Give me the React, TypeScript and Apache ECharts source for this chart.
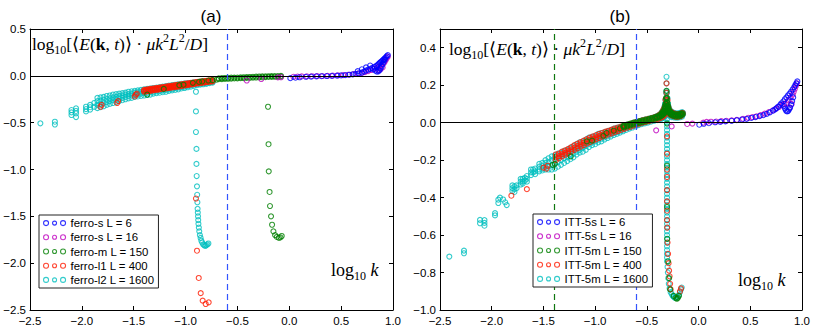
import React, { useEffect, useRef } from 'react';
import * as echarts from 'echarts';

// ---------- axes ----------
const xMin = -2.5, xMax = 1.0, xStep = 0.5;
const aYMin = -2.5, aYMax = 0.5, aYStep = 0.5;
const bYMin = -1.0, bYMax = 0.5, bYStep = 0.2;

// ---------- legend / colours ----------
const legendA = ['ferro-s L = 6', 'ferro-s L = 16', 'ferro-m L = 150', 'ferro-l1 L = 400', 'ferro-l2 L = 1600'];
const legendB = ['ITT-5s L = 6', 'ITT-5s L = 16', 'ITT-5m L = 150', 'ITT-5m L = 400', 'ITT-5m L = 1600'];
const colors = ['#0000ff', '#bf00bf', '#008000', '#ff1a00', '#00bfbf'];

// reference lines
const zeroY = 0;
const aBlueDash = -0.6;
const bBlueDash = -0.6;
const bGreenDash = -1.4;

// ================= PANEL (a) =================
const aBlue = [
  [0.01, -0.025], [0.06, -0.02], [0.1, -0.015], [0.16, -0.01], [0.21, -0.008], [0.26, -0.005], [0.31, -0.004],
  [0.36, -0.002], [0.41, 0.0], [0.46, 0.002], [0.5, 0.005], [0.54, 0.008], [0.58, 0.012], [0.61, 0.016],
  [0.64, 0.02], [0.67, 0.026], [0.7, 0.035], [0.72, 0.045], [0.74, 0.055], [0.76, 0.065], [0.78, 0.075],
  [0.8, 0.085], [0.82, 0.095], [0.84, 0.105], [0.85, 0.115], [0.86, 0.125], [0.87, 0.135], [0.88, 0.145],
  [0.89, 0.155], [0.9, 0.165], [0.91, 0.175], [0.92, 0.185], [0.93, 0.197], [0.94, 0.21], [0.95, 0.222],
  [0.66, 0.05], [0.7, 0.07], [0.74, 0.09], [0.78, 0.11], [0.81, 0.07], [0.83, 0.055], [0.845, 0.045],
  [0.86, 0.048], [0.87, 0.06], [0.88, 0.08], [0.89, 0.1], [0.9, 0.125], [0.91, 0.15], [0.92, 0.17],
];
const aMagenta = [
  [-0.41, -0.05], [-0.27, -0.034], [-0.11, -0.016], [-0.08, -0.015], [0.04, -0.01], [0.08, -0.008],
  [0.12, -0.006], [0.17, -0.005], [0.22, -0.004], [0.27, -0.003], [0.32, -0.002], [0.37, 0.0], [0.42, 0.002],
  [0.47, 0.005], [0.52, 0.008], [0.57, 0.012], [0.62, 0.018], [0.66, 0.024], [0.7, 0.032], [0.73, 0.04],
  [0.76, 0.05], [0.79, 0.062], [0.82, 0.076], [0.85, 0.09], [0.87, 0.1], [0.89, 0.115], [0.91, 0.135],
  [0.92, 0.15], [0.93, 0.17], [0.94, 0.19], [0.95, 0.205], [0.86, 0.06], [0.88, 0.07], [0.9, 0.09],
];
const aGreenEdge = [
  [-1.37, -0.2], [-1.21, -0.14], [-1.06, -0.1], [-1.02, -0.095], [-0.93, -0.075], [-0.87, -0.065],
  [-0.84, -0.06], [-0.78, -0.05], [-0.74, -0.045], [-0.7, -0.04],
];
const aGreenBand = [
  [-0.68, -0.036, -0.026], [-0.65, -0.035, -0.025], [-0.62, -0.033, -0.023], [-0.59, -0.031, -0.021],
  [-0.56, -0.03, -0.02], [-0.53, -0.028, -0.019], [-0.5, -0.027, -0.018], [-0.47, -0.025, -0.016],
  [-0.44, -0.024, -0.015], [-0.41, -0.022, -0.013], [-0.38, -0.021, -0.012], [-0.35, -0.019, -0.01],
  [-0.32, -0.018, -0.009], [-0.29, -0.016, -0.007], [-0.26, -0.015, -0.006], [-0.23, -0.013, -0.005],
  [-0.2, -0.012, -0.004], [-0.17, -0.011, -0.003], [-0.14, -0.01, -0.002], [-0.11, -0.01, -0.002],
  [-0.08, -0.009, -0.001],
];
const aGreenDrop = [
  [-0.205, -0.33], [-0.2, -0.73], [-0.198, -1.02], [-0.19, -1.24], [-0.186, -1.39], [-0.176, -1.5],
  [-0.166, -1.59], [-0.153, -1.66], [-0.137, -1.7], [-0.12, -1.72], [-0.1, -1.73], [-0.085, -1.725], [-0.073, -1.71],
];
const aRedEdge = [
  [-1.82, -0.33], [-1.81, -0.31], [-1.66, -0.29], [-1.65, -0.27], [-1.49, -0.22], [-1.48, -0.2], [-1.47, -0.19],
];
const aRedBand = [
  [-1.4, -0.15, -0.16, -0.17], [-1.38, -0.147, -0.157, -0.167], [-1.36, -0.143, -0.153, -0.163],
  [-1.34, -0.14, -0.15, -0.16], [-1.32, -0.137, -0.147, -0.157], [-1.3, -0.133, -0.143, -0.153],
  [-1.28, -0.13, -0.14, -0.15], [-1.26, -0.127, -0.137, -0.147], [-1.24, -0.123, -0.133, -0.143],
  [-1.22, -0.12, -0.13, -0.14], [-1.2, -0.117, -0.127, -0.137], [-1.18, -0.113, -0.123, -0.133],
  [-1.16, -0.11, -0.12, -0.13], [-1.14, -0.107, -0.117, -0.127], [-1.12, -0.103, -0.113, -0.123],
  [-1.1, -0.1, -0.11, -0.12], [-1.08, -0.097, -0.107, -0.117], [-1.06, -0.093, -0.103, -0.113],
  [-1.04, -0.09, -0.1, -0.11], [-1.02, -0.087, -0.097, -0.105], [-1.0, -0.083, -0.093, -0.102],
  [-0.98, -0.08, -0.09, -0.098], [-0.96, -0.077, -0.086, -0.094], [-0.94, -0.074, -0.083, -0.091],
  [-0.92, -0.071, -0.08, -0.088], [-0.9, -0.068, -0.076, -0.084], [-0.88, -0.065, -0.073, -0.081],
  [-0.86, -0.062, -0.07, -0.078], [-0.84, -0.059, -0.067, -0.075], [-0.82, -0.056, -0.064, -0.071],
  [-0.8, -0.053, -0.061, -0.068], [-0.78, -0.05, -0.058, -0.065], [-0.76, -0.047, -0.055, -0.062],
  [-0.74, -0.044, -0.052, -0.059],
];
const aRedDrop = [
  [-0.9, -1.31], [-0.89, -1.867], [-0.873, -2.158], [-0.854, -2.32], [-0.835, -2.4], [-0.806, -2.436], [-0.777, -2.418],
];
const aCyanIsolated = [
  [-2.4, -0.507], [-2.26, -0.49], [-2.26, -0.52], [-2.1, -0.365], [-2.1, -0.39], [-2.1, -0.418],
  [-2.056, -0.347], [-2.056, -0.375], [-2.056, -0.4], [-2.056, -0.44], [-1.96, -0.33], [-1.96, -0.355],
  [-1.96, -0.38], [-1.92, -0.31], [-1.92, -0.335], [-1.92, -0.36], [-1.88, -0.29], [-1.88, -0.33],
];
const aCyanBand = [
  [-1.85, -0.235, -0.27, -0.31, -0.345], [-1.82, -0.23, -0.265, -0.3, -0.335], [-1.79, -0.225, -0.255, -0.29, -0.325],
  [-1.76, -0.215, -0.245, -0.28, -0.31], [-1.73, -0.21, -0.24, -0.27, -0.3], [-1.7, -0.2, -0.23, -0.26, -0.29],
  [-1.67, -0.195, -0.225, -0.255, -0.28], [-1.64, -0.19, -0.215, -0.245, -0.27], [-1.61, -0.185, -0.21, -0.235, -0.26],
  [-1.58, -0.18, -0.2, -0.225, -0.25], [-1.55, -0.17, -0.195, -0.215, -0.24], [-1.52, -0.165, -0.19, -0.21, -0.235],
  [-1.49, -0.16, -0.18, -0.205, -0.225], [-1.46, -0.155, -0.175, -0.2, -0.22], [-1.43, -0.15, -0.17, -0.19, -0.215],
  [-1.4, -0.145, -0.165, -0.185, -0.21], [-1.37, -0.14, -0.16, -0.18, -0.205], [-1.34, -0.135, -0.155, -0.175, -0.2],
  [-1.31, -0.13, -0.15, -0.17, -0.19], [-1.28, -0.125, -0.145, -0.165, -0.185], [-1.25, -0.12, -0.14, -0.16, -0.18],
  [-1.22, -0.115, -0.135, -0.155, -0.175], [-1.19, -0.11, -0.13, -0.15, -0.17], [-1.16, -0.105, -0.125, -0.145, -0.16],
  [-1.13, -0.1, -0.12, -0.14, -0.155], [-1.1, -0.095, -0.115, -0.13, -0.15], [-1.07, -0.09, -0.11, -0.125, -0.145],
  [-1.04, -0.085, -0.1, -0.12, -0.135], [-1.01, -0.08, -0.095, -0.115, -0.13], [-0.98, -0.078, -0.092, -0.108, -0.122],
  [-0.95, -0.075, -0.088, -0.1, -0.115], [-0.92, -0.07, -0.083, -0.095, -0.108], [-0.89, -0.066, -0.078, -0.09, -0.1],
  [-0.86, -0.062, -0.073, -0.085, -0.095], [-0.83, -0.058, -0.068, -0.08, -0.09], [-0.8, -0.055, -0.064, -0.075, -0.085],
  [-0.77, -0.052, -0.06, -0.07, -0.078], [-0.74, -0.05, -0.057, -0.065, -0.072],
];
const aCyanDrop = [
  [-0.9, -0.17], [-0.9, -0.38], [-0.9, -0.6], [-0.895, -0.78], [-0.895, -0.94], [-0.893, -1.07],
  [-0.89, -1.18], [-0.888, -1.27], [-0.886, -1.35], [-0.884, -1.42], [-0.882, -1.46], [-0.88, -1.5],
  [-0.878, -1.54], [-0.876, -1.58], [-0.872, -1.62], [-0.868, -1.66], [-0.862, -1.7], [-0.855, -1.73],
  [-0.848, -1.76], [-0.84, -1.78], [-0.83, -1.8], [-0.82, -1.81], [-0.81, -1.815], [-0.8, -1.81],
  [-0.79, -1.8], [-0.78, -1.79],
];

// ================= PANEL (b) =================
const bBlue = [
  [0.007, -0.011], [0.05, -0.006], [0.1, -0.003], [0.16, 0.002], [0.21, 0.004], [0.26, 0.007], [0.32, 0.01],
  [0.37, 0.013], [0.42, 0.017], [0.465, 0.02], [0.51, 0.025], [0.55, 0.03], [0.59, 0.035], [0.626, 0.04],
  [0.66, 0.047], [0.69, 0.055], [0.72, 0.064], [0.74, 0.071], [0.755, 0.078], [0.77, 0.085], [0.79, 0.095],
  [0.8, 0.103], [0.82, 0.114], [0.835, 0.125], [0.85, 0.135], [0.865, 0.145], [0.88, 0.155], [0.895, 0.165],
  [0.91, 0.178], [0.925, 0.19], [0.935, 0.2], [0.945, 0.21], [0.955, 0.22],
  [0.825, 0.09], [0.835, 0.075], [0.845, 0.065], [0.855, 0.06], [0.865, 0.062], [0.875, 0.07], [0.885, 0.08],
  [0.895, 0.096], [0.905, 0.115], [0.915, 0.135],
];
const bMagenta = [
  [-0.41, -0.041], [-0.26, -0.02], [-0.11, -0.007], [-0.06, -0.005], [0.046, 0.0], [0.078, 0.004], [0.12, 0.005],
  [0.17, 0.006], [0.22, 0.008], [0.27, 0.01], [0.32, 0.012], [0.37, 0.015], [0.43, 0.02], [0.48, 0.026],
  [0.52, 0.03], [0.56, 0.034], [0.6, 0.04], [0.64, 0.048], [0.68, 0.056], [0.72, 0.066], [0.75, 0.075],
  [0.78, 0.085], [0.81, 0.095], [0.83, 0.1], [0.85, 0.105], [0.87, 0.12], [0.89, 0.135], [0.91, 0.15],
  [0.92, 0.165], [0.93, 0.18], [0.94, 0.195], [0.95, 0.21], [0.88, 0.08], [0.9, 0.1],
];
const bGreenEdge = [
  [-1.41, -0.225], [-1.39, -0.22], [-1.236, -0.18], [-1.08, -0.1], [-1.03, -0.096], [-0.92, -0.07],
  [-0.89, -0.055], [-0.82, -0.043], [-0.76, -0.03], [-0.73, -0.02],
];
const bGreenBand = [
  [-0.72, -0.025, -0.02, -0.015], [-0.69, -0.02, -0.015, -0.01], [-0.66, -0.015, -0.01, -0.005],
  [-0.63, -0.01, -0.005, 0.0], [-0.6, -0.005, 0.0, 0.004], [-0.57, -0.001, 0.004, 0.008],
  [-0.54, 0.003, 0.008, 0.012], [-0.51, 0.007, 0.012, 0.016], [-0.48, 0.012, 0.016, 0.02],
  [-0.45, 0.016, 0.02, 0.025], [-0.42, 0.021, 0.025, 0.03], [-0.4, 0.025, 0.029, 0.033],
  [-0.38, 0.029, 0.034, 0.039], [-0.36, 0.035, 0.04, 0.047], [-0.35, 0.04, 0.047, 0.055],
  [-0.34, 0.045, 0.054, 0.062], [-0.33, 0.05, 0.06, 0.075], [-0.325, 0.055, 0.07, 0.088],
  [-0.32, 0.06, 0.08, 0.1], [-0.315, 0.075, 0.1, 0.13], [-0.31, 0.1, 0.135, 0.17], [-0.305, 0.09, 0.11, 0.13],
  [-0.3, 0.075, 0.09, 0.105], [-0.295, 0.065, 0.075, 0.088], [-0.29, 0.06, 0.068, 0.076],
  [-0.28, 0.05, 0.056, 0.062], [-0.27, 0.044, 0.05, 0.056], [-0.26, 0.04, 0.046, 0.052],
  [-0.24, 0.035, 0.041, 0.047], [-0.22, 0.033, 0.039, 0.045], [-0.2, 0.033, 0.039, 0.045],
  [-0.18, 0.035, 0.041, 0.047], [-0.165, 0.04, 0.046, 0.05], [-0.155, 0.044, 0.05],
];
const bGreenDrop = [
  [-0.305, -0.005], [-0.305, -0.23], [-0.305, -0.45], [-0.303, -0.62], [-0.295, -0.74], [-0.285, -0.83],
  [-0.275, -0.89], [-0.24, -0.925], [-0.22, -0.935], [-0.21, -0.94], [-0.2, -0.935], [-0.19, -0.925],
];
const bRedEdge = [
  [-1.81, -0.39], [-1.66, -0.355], [-1.5, -0.24], [-1.47, -0.245], [-1.46, -0.23],
];
const bRedBand = [
  [-1.38, -0.17, -0.185, -0.2], [-1.35, -0.165, -0.178, -0.19], [-1.32, -0.155, -0.168, -0.18],
  [-1.29, -0.148, -0.16, -0.172], [-1.26, -0.14, -0.152, -0.164], [-1.23, -0.13, -0.142, -0.154],
  [-1.2, -0.12, -0.133, -0.145], [-1.17, -0.112, -0.125, -0.137], [-1.14, -0.104, -0.116, -0.128],
  [-1.11, -0.096, -0.108, -0.12], [-1.08, -0.088, -0.1, -0.112], [-1.05, -0.08, -0.092, -0.104],
  [-1.02, -0.073, -0.085, -0.096], [-0.99, -0.066, -0.078, -0.089], [-0.96, -0.06, -0.071, -0.082],
  [-0.93, -0.054, -0.065, -0.075], [-0.9, -0.048, -0.059, -0.069], [-0.87, -0.043, -0.053, -0.063],
  [-0.84, -0.037, -0.047, -0.057], [-0.81, -0.031, -0.041, -0.051], [-0.78, -0.026, -0.036, -0.045],
  [-0.75, -0.021, -0.03, -0.039], [-0.72, -0.016, -0.025, -0.033], [-0.69, -0.011, -0.019, -0.027],
  [-0.66, -0.006, -0.014, -0.022], [-0.63, -0.001, -0.009, -0.016], [-0.6, 0.004, -0.003, -0.01],
  [-0.57, 0.008, 0.001, -0.005], [-0.54, 0.013, 0.006, 0.0], [-0.51, 0.017, 0.01, 0.004],
  [-0.48, 0.021, 0.014, 0.008], [-0.45, 0.026, 0.019, 0.012], [-0.42, 0.031, 0.023, 0.016],
  [-0.39, 0.038, 0.029, 0.02], [-0.37, 0.045, 0.034, 0.024], [-0.35, 0.058, 0.043, 0.03],
  [-0.34, 0.068, 0.05, 0.034], [-0.33, 0.08, 0.06, 0.04], [-0.32, 0.123, 0.085, 0.05],
  [-0.31, 0.21, 0.16, 0.11], [-0.3, 0.12, 0.09, 0.06], [-0.29, 0.08, 0.063, 0.048],
  [-0.27, 0.06, 0.05, 0.04], [-0.25, 0.052, 0.044, 0.036], [-0.23, 0.048, 0.04, 0.033],
  [-0.21, 0.046, 0.038, 0.031], [-0.19, 0.046, 0.039, 0.032], [-0.17, 0.049, 0.042, 0.035], [-0.155, 0.052, 0.045],
];
const bRedDrop = [
  [-0.305, -0.073], [-0.305, -0.166], [-0.305, -0.25], [-0.305, -0.29], [-0.305, -0.36], [-0.305, -0.42],
  [-0.305, -0.47], [-0.305, -0.52], [-0.303, -0.56], [-0.3, -0.64], [-0.295, -0.7], [-0.29, -0.75],
  [-0.285, -0.79], [-0.28, -0.82], [-0.275, -0.86], [-0.27, -0.89], [-0.18, -0.9], [-0.17, -0.885],
];
const bCyanIsolated = [
  [-2.41, -0.715], [-2.268, -0.683], [-2.268, -0.697], [-2.113, -0.519], [-2.113, -0.537], [-2.07, -0.52],
  [-2.07, -0.535], [-2.07, -0.55], [-1.968, -0.483], [-1.968, -0.495], [-1.936, -0.411], [-1.936, -0.429],
  [-1.92, -0.4], [-1.89, -0.41], [-1.87, -0.425], [-1.855, -0.44],
];
const bCyanBand = [
  [-1.8, -0.335, -0.35, -0.365], [-1.78, -0.34, -0.355, -0.37], [-1.76, -0.335, -0.35],
  [-1.72, -0.3, -0.315, -0.33], [-1.7, -0.3, -0.315, -0.325], [-1.68, -0.295, -0.31],
  [-1.66, -0.285, -0.3, -0.315], [-1.62, -0.25, -0.265, -0.28], [-1.6, -0.25, -0.265],
  [-1.58, -0.245, -0.26, -0.275], [-1.54, -0.22, -0.235, -0.25, -0.26], [-1.51, -0.215, -0.23, -0.245, -0.255],
  [-1.48, -0.2, -0.215, -0.235, -0.25], [-1.45, -0.19, -0.21, -0.23, -0.25], [-1.42, -0.18, -0.2, -0.225, -0.25],
  [-1.39, -0.175, -0.195, -0.22, -0.245], [-1.36, -0.165, -0.185, -0.21, -0.235], [-1.33, -0.16, -0.18, -0.2, -0.225],
  [-1.3, -0.15, -0.17, -0.19, -0.215], [-1.27, -0.145, -0.165, -0.185, -0.205], [-1.24, -0.135, -0.155, -0.175, -0.195],
  [-1.21, -0.125, -0.145, -0.165, -0.185], [-1.18, -0.115, -0.135, -0.155, -0.17], [-1.15, -0.105, -0.125, -0.145, -0.16],
  [-1.12, -0.1, -0.12, -0.135, -0.155], [-1.09, -0.09, -0.11, -0.125, -0.145], [-1.06, -0.08, -0.1, -0.115, -0.13],
  [-1.03, -0.075, -0.09, -0.105, -0.12], [-1.0, -0.07, -0.085, -0.1, -0.115], [-0.97, -0.06, -0.075, -0.09, -0.105],
  [-0.94, -0.055, -0.07, -0.085, -0.1], [-0.91, -0.05, -0.065, -0.078, -0.09], [-0.88, -0.045, -0.058, -0.07, -0.082],
  [-0.85, -0.04, -0.052, -0.063, -0.074], [-0.82, -0.032, -0.045, -0.056, -0.066], [-0.79, -0.027, -0.04, -0.05, -0.06],
  [-0.76, -0.022, -0.034, -0.044, -0.053], [-0.73, -0.017, -0.028, -0.038, -0.046], [-0.7, -0.012, -0.022, -0.031, -0.039],
  [-0.67, -0.007, -0.016, -0.025, -0.032], [-0.64, -0.002, -0.011, -0.019, -0.026], [-0.61, 0.003, -0.006, -0.013, -0.02],
  [-0.58, 0.007, 0.0, -0.007, -0.013], [-0.55, 0.012, 0.005, -0.002, -0.008], [-0.52, 0.016, 0.009, 0.002, -0.004],
  [-0.49, 0.02, 0.013, 0.006, 0.0], [-0.46, 0.025, 0.018, 0.011, 0.005], [-0.43, 0.03, 0.023, 0.016, 0.01],
  [-0.4, 0.036, 0.028, 0.02, 0.014], [-0.38, 0.042, 0.033, 0.024, 0.017], [-0.36, 0.052, 0.04, 0.029, 0.02],
  [-0.35, 0.06, 0.046, 0.033, 0.024], [-0.34, 0.07, 0.054, 0.038, 0.027], [-0.33, 0.085, 0.065, 0.045, 0.03],
  [-0.325, 0.1, 0.075, 0.05, 0.035], [-0.32, 0.12, 0.09, 0.06, 0.04], [-0.315, 0.16, 0.12, 0.08, 0.05],
  [-0.31, 0.245, 0.21, 0.17, 0.13], [-0.305, 0.16, 0.12, 0.08], [-0.3, 0.13, 0.1, 0.07, 0.045],
  [-0.295, 0.1, 0.08, 0.06], [-0.29, 0.085, 0.068, 0.052, 0.04], [-0.28, 0.07, 0.058, 0.046, 0.035],
  [-0.27, 0.062, 0.052, 0.042], [-0.26, 0.057, 0.048, 0.038, 0.03], [-0.24, 0.053, 0.045, 0.036, 0.028],
  [-0.22, 0.05, 0.042, 0.034, 0.027], [-0.2, 0.05, 0.042, 0.034, 0.027], [-0.18, 0.052, 0.044, 0.036, 0.029],
  [-0.16, 0.056, 0.048, 0.04, 0.032], [-0.15, 0.052, 0.044],
];
const bCyanColumnX = -0.305;
const bCyanColumnY = [
  0.02, 0.0, -0.02, -0.04, -0.06, -0.08, -0.1, -0.12, -0.14, -0.16, -0.18, -0.2, -0.22, -0.24, -0.26, -0.28,
  -0.3, -0.32, -0.34, -0.36, -0.38, -0.4, -0.42, -0.44, -0.46, -0.48, -0.5, -0.52, -0.54, -0.56, -0.58,
  -0.6, -0.62, -0.64, -0.66, -0.68, -0.7, -0.72, -0.74,
];
const bCyanHook = [
  [-0.3, -0.77], [-0.297, -0.8], [-0.293, -0.83], [-0.288, -0.86], [-0.28, -0.885], [-0.27, -0.905],
  [-0.26, -0.915], [-0.25, -0.925], [-0.24, -0.93], [-0.23, -0.935], [-0.21, -0.935], [-0.2, -0.93],
  [-0.19, -0.92], [-0.18, -0.905], [-0.17, -0.89], [-0.163, -0.88],
];

// ---------- helpers (reshape only) ----------
const rows = (r: number[][]) => r.flatMap(([x, ...ys]) => ys.map((y) => [x, y]));
const column = (x: number, ys: number[]) => ys.map((y) => [x, y]);

const fmt = (v: number) => {
  if (Math.abs(v) < 1e-9) return '0.0';
  const s = Math.abs(v).toFixed(1);
  return v < 0 ? '\u2212' + s : s;
};

const FONT = 'Liberation Sans, Arial, sans-serif';
const SERIF = 'Liberation Serif, Times New Roman, serif';

export default function App() {
  const ref = useRef<HTMLDivElement>(null);
  useEffect(() => {
    if (!ref.current) return;
    const chart = echarts.init(ref.current, undefined, { renderer: 'svg' });

    const xAxisDef = (gi: number, pos: 'bottom' | 'top') => ({
      type: 'value', gridIndex: gi, position: pos, min: xMin, max: xMax, interval: xStep,
      axisLine: { show: true, onZero: false, lineStyle: { color: '#000', width: 1 } },
      axisTick: { show: true, inside: true, length: 4, lineStyle: { color: '#000', width: 1 } },
      axisLabel: pos === 'bottom'
        ? { show: true, formatter: fmt, margin: 5, color: '#000', fontSize: 11.5, fontFamily: FONT }
        : { show: false },
      splitLine: { show: false },
    });
    const yAxisDef = (gi: number, pos: 'left' | 'right', mn: number, mx: number, st: number) => ({
      type: 'value', gridIndex: gi, position: pos, min: mn, max: mx, interval: st,
      axisLine: { show: true, onZero: false, lineStyle: { color: '#000', width: 1 } },
      axisTick: { show: true, inside: true, length: 4, lineStyle: { color: '#000', width: 1 } },
      axisLabel: pos === 'left'
        ? {
            show: true, margin: 4, color: '#000', fontSize: 11.5, fontFamily: FONT,
            formatter: (v: number) => (v > mx - 1e-9 && (mx - mn) / st % 1 > 1e-6 ? '' : fmt(v)),
          }
        : { show: false },
      splitLine: { show: false },
    });

    const scatter = (name: string, color: string, data: number[][], xi: number, yi: number, extra: any = {}) => ({
      type: 'scatter', name, data, xAxisIndex: xi, yAxisIndex: yi,
      symbol: 'circle', symbolSize: 5,
      itemStyle: { color: 'transparent', borderColor: color, borderWidth: 1.1 },
      emphasis: { disabled: true }, silent: true, animation: false, ...extra,
    });

    const ml = (lines: any[]) => ({
      markLine: { z: 3, zlevel: 0, silent: true, symbol: ['none', 'none'], label: { show: false }, animation: false, data: lines },
    });

    const aSeries = [
      scatter(legendA[4], colors[4], [...aCyanIsolated, ...rows(aCyanBand), ...aCyanDrop], 0, 0),
      scatter(legendA[3], colors[3], [...aRedEdge, ...rows(aRedBand), ...aRedDrop], 0, 0),
      scatter(legendA[2], colors[2], [...aGreenEdge, ...rows(aGreenBand), ...aGreenDrop], 0, 0),
      scatter(legendA[1], colors[1], aMagenta, 0, 0),
      scatter(legendA[0], colors[0], aBlue, 0, 0, ml([
        { yAxis: zeroY, lineStyle: { color: '#000', type: 'solid', width: 1 } },
        { xAxis: aBlueDash, lineStyle: { color: '#3355ff', type: [6, 4], width: 1.2 } },
      ])),
    ];
    const bSeries = [
      scatter(legendB[4], colors[4], [...bCyanIsolated, ...rows(bCyanBand), ...column(bCyanColumnX, bCyanColumnY), ...bCyanHook], 2, 2),
      scatter(legendB[3], colors[3], [...bRedEdge, ...rows(bRedBand), ...bRedDrop], 2, 2),
      scatter(legendB[2], colors[2], [...bGreenEdge, ...rows(bGreenBand), ...bGreenDrop], 2, 2),
      scatter(legendB[1], colors[1], bMagenta, 2, 2),
      scatter(legendB[0], colors[0], bBlue, 2, 2, ml([
        { yAxis: zeroY, lineStyle: { color: '#000', type: 'solid', width: 1 } },
        { xAxis: bBlueDash, lineStyle: { color: '#3355ff', type: [6, 4], width: 1.2 } },
        { xAxis: bGreenDash, lineStyle: { color: '#117711', type: [6, 4], width: 1.2 } },
      ])),
    ];

    const legendIcon = 'path://M0,2.5a2.5,2.5 0 1,0 5,0a2.5,2.5 0 1,0 -5,0M9,2.5a2,2 0 1,0 4,0a2,2 0 1,0 -4,0M17,2.5a2.5,2.5 0 1,0 5,0a2.5,2.5 0 1,0 -5,0';
    const legendDef = (data: string[], left: number, top: number) => ({
      data, orient: 'vertical', left, top, z: 30, zlevel: 1, icon: legendIcon, itemWidth: 22, itemHeight: 5, itemGap: 0,
      padding: [1, 4, 1, 4], backgroundColor: '#ffffff', borderColor: '#222', borderWidth: 1, borderRadius: 0,
      selectedMode: false,
      itemStyle: { color: 'transparent', borderColor: 'inherit', borderWidth: 1.1 },
      textStyle: { fontSize: 11.4, fontFamily: FONT, color: '#000', lineHeight: 14.2 },
    });

    const FS = 17.5, FSS = 12;
    const ylabelRich = {
      r: { fontFamily: SERIF, fontSize: FS, color: '#222', lineHeight: 24, verticalAlign: 'middle' },
      i: { fontFamily: SERIF, fontSize: FS, fontStyle: 'italic', color: '#222', lineHeight: 24, verticalAlign: 'middle' },
      b: { fontFamily: SERIF, fontSize: FS, fontWeight: 'bold', color: '#222', lineHeight: 24, verticalAlign: 'middle' },
      sub: { fontFamily: SERIF, fontSize: FSS, color: '#222', lineHeight: 12, verticalAlign: 'bottom' },
      sup: { fontFamily: SERIF, fontSize: FSS, color: '#222', lineHeight: 12, verticalAlign: 'top' },
    };
    const ylabelText = '{r|log}{sub|10}{r|[\u27e8}{i|E}{r|(}{b|k}{r|, }{i|t}{r|)\u27e9 \u00b7 }{i|\u03bck}{sup|2}{i|L}{sup|2}{r|/}{i|D}{r|]}';
    const kRich = {
      r: { fontFamily: SERIF, fontSize: 18, color: '#222', lineHeight: 24, verticalAlign: 'middle' },
      i: { fontFamily: SERIF, fontSize: 18, fontStyle: 'italic', color: '#222', lineHeight: 24, verticalAlign: 'middle' },
      sub: { fontFamily: SERIF, fontSize: 12, color: '#222', lineHeight: 12, verticalAlign: 'bottom' },
    };
    const kText = '{r|log}{sub|10}{r| }{i|k}';

    chart.setOption({
      animation: false,
      backgroundColor: '#fff',
      grid: [
        { left: 30, top: 29, width: 363, height: 281 },
        { left: 440, top: 29, width: 362, height: 281 },
      ],
      xAxis: [xAxisDef(0, 'bottom'), xAxisDef(0, 'top'), xAxisDef(1, 'bottom'), xAxisDef(1, 'top')],
      yAxis: [
        yAxisDef(0, 'left', aYMin, aYMax, aYStep), yAxisDef(0, 'right', aYMin, aYMax, aYStep),
        yAxisDef(1, 'left', bYMin, bYMax, bYStep), yAxisDef(1, 'right', bYMin, bYMax, bYStep),
      ],
      legend: [legendDef(legendA, 39, 215), legendDef(legendB, 533, 214)],
      series: [...aSeries, ...bSeries],
      graphic: [
        { type: 'text', x: 211, y: 16, style: { text: '(a)', font: `17px ${FONT}`, fill: '#000', align: 'center', verticalAlign: 'middle' } },
        { type: 'text', x: 620, y: 16, style: { text: '(b)', font: `17px ${FONT}`, fill: '#000', align: 'center', verticalAlign: 'middle' } },
        { type: 'text', x: 32, y: 32, z: 10, style: { text: ylabelText, rich: ylabelRich } },
        { type: 'text', x: 449, y: 37, z: 10, style: { text: ylabelText, rich: ylabelRich } },
        { type: 'text', x: 331, y: 258, z: 10, style: { text: kText, rich: kRich } },
        { type: 'text', x: 738, y: 268, z: 10, style: { text: kText, rich: kRich } },
      ],
    });
    return () => chart.dispose();
  }, []);
  return <div ref={ref} style={{ position: 'fixed', left: 0, top: 0, width: 817, height: 328 }} />;
}
